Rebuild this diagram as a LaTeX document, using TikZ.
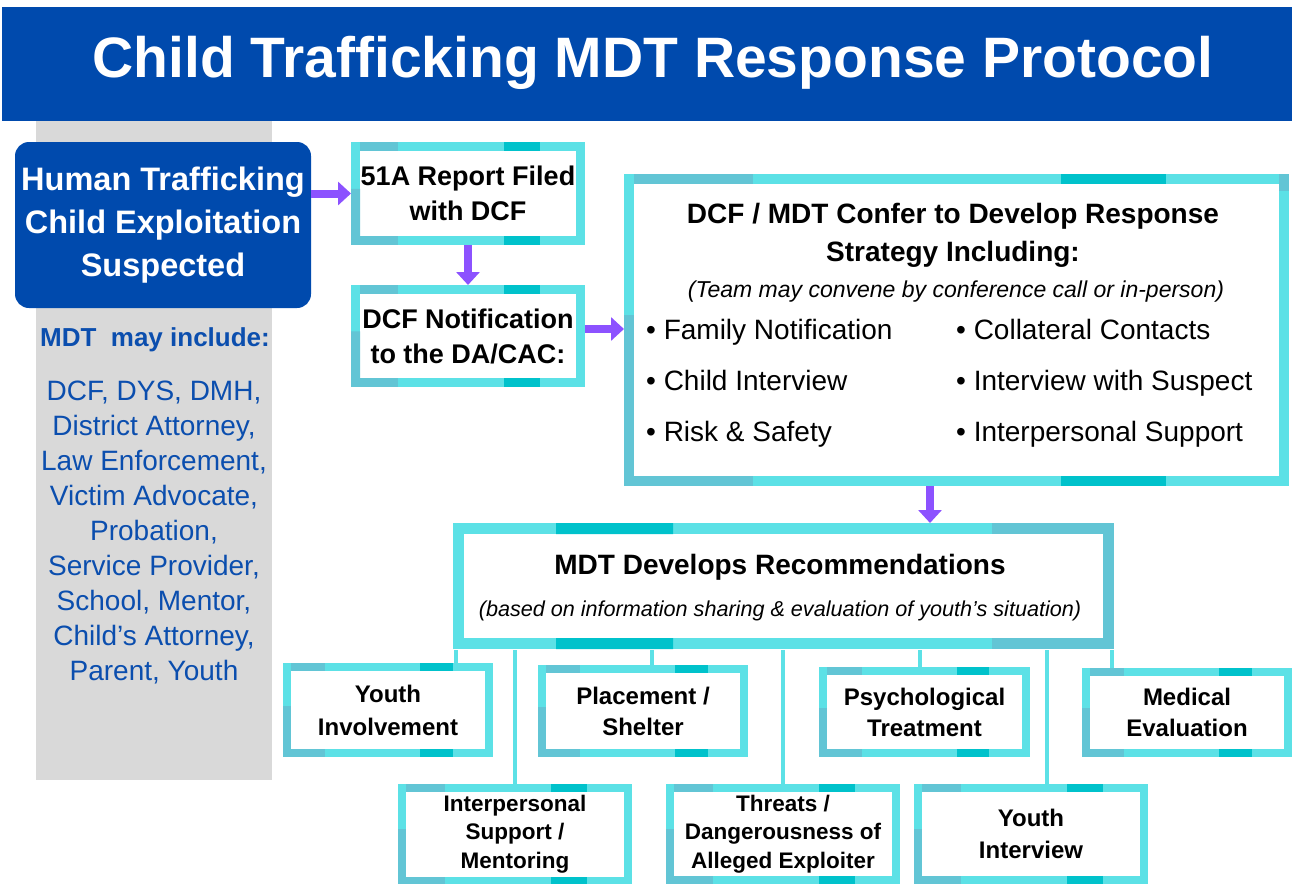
\documentclass[tikz,border=0pt]{standalone}
\usepackage{fontspec}
\setmainfont{Liberation Sans}
\usetikzlibrary{arrows.meta}
\usetikzlibrary{calc}

\definecolor{titleblue}{HTML}{004AAD}
\definecolor{panelgray}{HTML}{D9D9D9}
\definecolor{listblue}{HTML}{0B4EAE}
\definecolor{flowpurple}{HTML}{8C52FF}
\definecolor{cyanL}{HTML}{5CE1E6}
\definecolor{tealM}{HTML}{62C5D5}
\definecolor{tealS}{HTML}{00C2CB}

% piezas de color sobre el borde de un marco
\newcommand{\tonedframe}[2]{%
  \draw[tealM, line width=#2] ([xshift=#2/2]#1.north west) -- ($(#1.north west)!.19!(#1.north east)$);
  \draw[tealS, line width=#2] ($(#1.north west)!.66!(#1.north east)$) -- ($(#1.north west)!.82!(#1.north east)$);
  \draw[tealM, line width=#2] ([xshift=-#2/2]#1.south west) -- ($(#1.south west)!.19!(#1.south east)$);
  \draw[tealS, line width=#2] ($(#1.south west)!.66!(#1.south east)$) -- ($(#1.south west)!.82!(#1.south east)$);
  \draw[tealM, line width=#2] (#1.south west) -- ($(#1.south west)!.55!(#1.north west)$);
}

\begin{document}
\begin{tikzpicture}[x=1pt, y=-1pt,
    frame/.style={draw=cyanL, fill=white, line width=9, outer sep=0, inner sep=0, align=center},
    flow/.style={draw=flowpurple, line width=8, -{Triangle[width=23pt,length=13pt]}},
    link/.style={draw=cyanL, line width=4, shorten <=4, shorten >=6},
    bullet/.style={anchor=base west, inner sep=0, font=\fontsize{28}{34}\selectfont}]
  \useasboundingbox (0,0) rectangle (1292,883);

  % Titulo
  \fill[titleblue] (2,7) rectangle (1292,121);
  \node[text=white, font=\bfseries\fontsize{57}{60}\selectfont] (title) at (653,63) {Child Trafficking MDT Response Protocol};

  % Equipo
  \fill[panelgray] (36,121) rectangle (272,780);
  \node[fill=titleblue, rounded corners=14, minimum width=296, minimum height=166, inner sep=0, outer sep=0,
        align=center, text=white, font=\bfseries\fontsize{32.5}{43}\selectfont] (suspect) at (163,225)
        {Human Trafficking\\Child Exploitation\\Suspected};
  \node[text=listblue, font=\bfseries\fontsize{26}{30}\selectfont] (mdtlabel) at (155,340) {MDT\ \ may include:};
  \node[text=listblue, align=center, font=\fontsize{28}{35}\selectfont] (members) at (154,533)
        {DCF, DYS, DMH,\\District Attorney,\\Law Enforcement,\\Victim Advocate,\\Probation,\\Service Provider,\\School, Mentor,\\Child’s Attorney,\\Parent, Youth};

  % Nodos
  \node[frame, minimum width=225, minimum height=94, font=\bfseries\fontsize{27}{35}\selectfont] (report) at (468,193.5) {51A Report Filed\\with DCF};
  \node[frame, minimum width=225, minimum height=93, font=\bfseries\fontsize{27}{35}\selectfont] (notify) at (468,336) {DCF Notification\\to the DA/CAC:};

  \node[frame, line width=10, minimum width=655, minimum height=302] (confer) at (956.5,330) {};
  \node[align=center, font=\bfseries\fontsize{28}{38}\selectfont] (conferhead) at (953,235) {DCF / MDT Confer to Develop Response\\Strategy Including:};
  \node[font=\itshape\fontsize{23}{28}\selectfont] (confernote) at (956,292) {(Team may convene by conference call or in-person)};
  \node[bullet] (family) at (646,339) {• Family Notification};
  \node[bullet] (childint) at (646,390) {• Child Interview};
  \node[bullet] (risk) at (646,441) {• Risk \& Safety};
  \node[bullet] (collateral) at (956,339) {• Collateral Contacts};
  \node[bullet] (suspectint) at (956,390) {• Interview with Suspect};
  \node[bullet] (support) at (956,441) {• Interpersonal Support};

  \node[frame, line width=11, minimum width=650, minimum height=115] (recs) at (783.5,586) {};
  \node[font=\bfseries\fontsize{28}{34}\selectfont] (recshead) at (780,567) {MDT Develops Recommendations};
  \node[font=\itshape\fontsize{21.6}{26}\selectfont] (recsnote) at (780,611) {(based on information sharing \& evaluation of youth’s situation)};

  \node[frame, line width=8, minimum width=202, minimum height=86, font=\bfseries\fontsize{24}{33}\selectfont] (youthinv) at (388,710) {Youth\\Involvement};
  \node[frame, line width=8, minimum width=202, minimum height=84, font=\bfseries\fontsize{24}{31}\selectfont] (placement) at (643,711) {Placement /\\Shelter};
  \node[frame, line width=8, minimum width=203, minimum height=82, font=\bfseries\fontsize{24}{31}\selectfont] (psych) at (924.5,712) {Psychological\\Treatment};
  \node[frame, line width=8, minimum width=202, minimum height=81, font=\bfseries\fontsize{24}{31}\selectfont] (medical) at (1187,712.5) {Medical\\Evaluation};
  \node[frame, line width=8, minimum width=226, minimum height=93, font=\bfseries\fontsize{22.5}{28.5}\selectfont] (interp) at (515,834) {Interpersonal\\Support /\\Mentoring};
  \node[frame, line width=8, minimum width=226, minimum height=92, font=\bfseries\fontsize{22.5}{28.5}\selectfont] (threats) at (783,834) {Threats /\\Dangerousness of\\Alleged Exploiter};
  \node[frame, line width=8, minimum width=226, minimum height=92, font=\bfseries\fontsize{24}{32}\selectfont] (yinterview) at (1031,834) {Youth\\Interview};

  % Bordes
  \tonedframe{report}{9}
  \tonedframe{notify}{9}
  \tonedframe{confer}{10}
  \tonedframe{youthinv}{8}
  \tonedframe{placement}{8}
  \tonedframe{psych}{8}
  \tonedframe{medical}{8}
  \tonedframe{interp}{8}
  \tonedframe{threats}{8}
  \tonedframe{yinterview}{8}
  \draw[tealM, line width=10] ([yshift=5]confer.north east) -- ([yshift=-12]confer.north east);
  \draw[tealS, line width=11] ($(recs.north west)!.15!(recs.north east)$) -- ($(recs.north west)!.33!(recs.north east)$);
  \draw[tealM, line width=11] ($(recs.north west)!.82!(recs.north east)$) -- ([xshift=5.5]recs.north east);
  \draw[tealS, line width=11] ($(recs.south west)!.15!(recs.south east)$) -- ($(recs.south west)!.33!(recs.south east)$);
  \draw[tealM, line width=11] ($(recs.south west)!.82!(recs.south east)$) -- ([xshift=5.5]recs.south east);
  \draw[tealM, line width=11] (recs.north east) -- (recs.south east);

  % Flechas
  \draw[flow, shorten >=4.5] (suspect.east |- report.west) -- (report.west);
  \draw[flow, shorten <=4.5, shorten >=4.5] (report.south) -- (notify.north);
  \draw[flow, shorten <=4.5, shorten >=5] ([yshift=7]notify.east) -- ([yshift=7]notify.east -| confer.west);
  \draw[flow, shorten <=5, shorten >=5.5] ([xshift=-26.5]confer.south) -- ([xshift=-26.5]confer.south |- recs.north);

  % Lineas
  \draw[link] ([xshift=-3]recs.south west |- youthinv.north) -- ([xshift=-3]recs.south west);
  \draw[link] (interp.north) -- (interp.north |- recs.south);
  \draw[link] ([xshift=9]placement.north) -- ([xshift=9]placement.north |- recs.south);
  \draw[link] (threats.north) -- (threats.north |- recs.south);
  \draw[link] ([xshift=-4.5]psych.north) -- ([xshift=-4.5]psych.north |- recs.south);
  \draw[link] ([xshift=16]yinterview.north) -- ([xshift=16]yinterview.north |- recs.south);
  \draw[link] ([xshift=3.5]recs.south east |- medical.north) -- ([xshift=3.5]recs.south east);
\end{tikzpicture}
\end{document}
